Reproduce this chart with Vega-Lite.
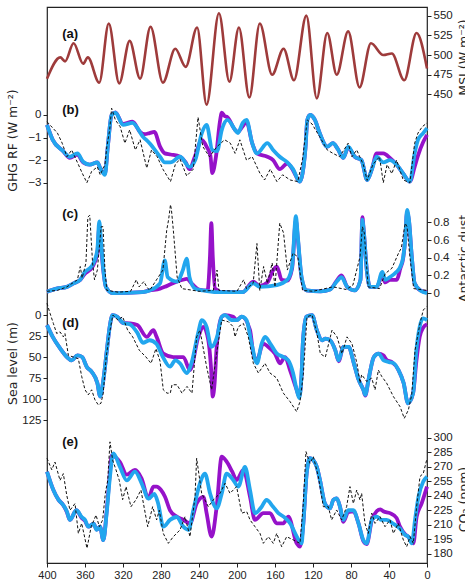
{
  "$schema": "https://vega.github.io/schema/vega-lite/v6.json",
  "width": 380,
  "height": 556,
  "autosize": {"type": "none"},
  "padding": {"left": 47, "top": 7, "right": 38, "bottom": 23},
  "background": "white",
  "config": {
    "view": {"stroke": "#222", "strokeWidth": 1.2},
    "axis": {
      "labelFont": "Liberation Sans", "labelFontSize": 11.5, "labelColor": "#222",
      "tickColor": "#222", "tickSize": 4, "labelPadding": 2,
      "titleFont": "DejaVu Sans", "titleFontSize": 12.5, "titleFontWeight": "normal", "titleColor": "#222",
      "domain": false, "grid": false
    }
  },
  "datasets": {
    "msi": [
      {"t":400,"v":470},{"t":386,"v":497},{"t":381,"v":492},{"t":372,"v":515},{"t":362,"v":489},{"t":357,"v":497},
      {"t":345,"v":465},{"t":335,"v":540},{"t":324,"v":464},{"t":313,"v":518},{"t":302,"v":470},{"t":291,"v":536},
      {"t":278,"v":465},{"t":265,"v":508},{"t":254,"v":485},{"t":242,"v":535},{"t":232,"v":437},{"t":219,"v":553},
      {"t":208,"v":466},{"t":198,"v":535},{"t":187,"v":446},{"t":176,"v":540},{"t":163,"v":475},{"t":151,"v":508},
      {"t":140,"v":468},{"t":127,"v":550},{"t":116,"v":445},{"t":105,"v":528},{"t":95,"v":475},{"t":83,"v":530},
      {"t":71,"v":459},{"t":59,"v":515},{"t":46,"v":500},{"t":37,"v":502},{"t":24,"v":468},{"t":11,"v":528},{"t":0,"v":483}
    ],
    "ghg": [
      {"s":"P","t":400,"v":-0.44},{"s":"P","t":394,"v":-1.1},{"s":"P","t":383,"v":-1.6},{"s":"P","t":376,"v":-1.9},{"s":"P","t":368,"v":-1.75},{"s":"P","t":362,"v":-2.1},{"s":"P","t":355,"v":-2.2},{"s":"P","t":347,"v":-2.1},{"s":"P","t":344,"v":-2.35},{"s":"P","t":339,"v":-2.6},{"s":"P","t":336,"v":-1.4},{"s":"P","t":332,"v":0},{"s":"P","t":328,"v":0.12},{"s":"P","t":320,"v":-0.4},{"s":"P","t":310,"v":-0.3},{"s":"P","t":302,"v":-0.75},{"s":"P","t":297,"v":-0.85},{"s":"P","t":292,"v":-0.8},{"s":"P","t":287,"v":-0.75},{"s":"P","t":281,"v":-1.4},{"s":"P","t":276,"v":-1.7},{"s":"P","t":270,"v":-1.75},{"s":"P","t":260,"v":-1.85},{"s":"P","t":254,"v":-2.1},{"s":"P","t":250,"v":-2.4},{"s":"P","t":244,"v":-1.8},{"s":"P","t":237,"v":-1.1},{"s":"P","t":232,"v":-1.4},{"s":"P","t":228,"v":-1.8},{"s":"P","t":226,"v":-2.57},{"s":"P","t":222,"v":-1.8},{"s":"P","t":218,"v":-0.3},{"s":"P","t":216,"v":0.1},{"s":"P","t":213,"v":-0.05},{"s":"P","t":210,"v":-0.1},{"s":"P","t":202,"v":-0.66},{"s":"P","t":199,"v":-0.75},{"s":"P","t":194,"v":-0.5},{"s":"P","t":190,"v":-0.3},{"s":"P","t":184,"v":-1.25},{"s":"P","t":179,"v":-1.7},{"s":"P","t":168,"v":-1.85},{"s":"P","t":162,"v":-2.0},{"s":"P","t":155,"v":-2.4},{"s":"P","t":147,"v":-2.15},{"s":"P","t":141,"v":-2.45},{"s":"P","t":134,"v":-2.95},{"s":"P","t":128,"v":-1.5},{"s":"P","t":126,"v":-0.22},{"s":"P","t":123,"v":0},{"s":"P","t":118,"v":-0.22},{"s":"P","t":113,"v":-0.8},{"s":"P","t":105,"v":-1.4},{"s":"P","t":99,"v":-1.25},{"s":"P","t":94,"v":-1.5},{"s":"P","t":88,"v":-1.9},{"s":"P","t":83,"v":-1.45},{"s":"P","t":76,"v":-1.85},{"s":"P","t":69,"v":-2.0},{"s":"P","t":63,"v":-2.88},{"s":"P","t":58,"v":-2.4},{"s":"P","t":53,"v":-1.7},{"s":"P","t":46,"v":-1.7},{"s":"P","t":39,"v":-1.9},{"s":"P","t":32,"v":-2.2},{"s":"P","t":25,"v":-2.6},{"s":"P","t":18,"v":-2.95},{"s":"P","t":13,"v":-2.3},{"s":"P","t":9.5,"v":-1.8},{"s":"P","t":4,"v":-1.2},{"s":"P","t":0,"v":-0.88},
      {"s":"B","t":400,"v":-0.44},{"s":"B","t":394,"v":-1.1},{"s":"B","t":383,"v":-1.6},{"s":"B","t":376,"v":-1.85},{"s":"B","t":368,"v":-1.7},{"s":"B","t":362,"v":-2.07},{"s":"B","t":355,"v":-2.2},{"s":"B","t":347,"v":-2.1},{"s":"B","t":344,"v":-2.35},{"s":"B","t":339,"v":-2.65},{"s":"B","t":336,"v":-1.4},{"s":"B","t":332,"v":0},{"s":"B","t":328,"v":0.1},{"s":"B","t":320,"v":-0.44},{"s":"B","t":310,"v":-0.35},{"s":"B","t":299,"v":-0.96},{"s":"B","t":292,"v":-1.25},{"s":"B","t":281,"v":-1.85},{"s":"B","t":276,"v":-2.1},{"s":"B","t":270,"v":-2.1},{"s":"B","t":260,"v":-1.85},{"s":"B","t":250,"v":-2.3},{"s":"B","t":244,"v":-2.0},{"s":"B","t":237,"v":-0.8},{"s":"B","t":232,"v":-0.44},{"s":"B","t":226,"v":-1.55},{"s":"B","t":221,"v":-1.6},{"s":"B","t":216,"v":-0.66},{"s":"B","t":210,"v":-0.22},{"s":"B","t":202,"v":-0.66},{"s":"B","t":199,"v":-0.8},{"s":"B","t":194,"v":-0.35},{"s":"B","t":190,"v":-0.22},{"s":"B","t":184,"v":-1.25},{"s":"B","t":179,"v":-1.7},{"s":"B","t":168,"v":-1.25},{"s":"B","t":162,"v":-1.55},{"s":"B","t":155,"v":-1.85},{"s":"B","t":147,"v":-2.1},{"s":"B","t":141,"v":-2.4},{"s":"B","t":134,"v":-2.95},{"s":"B","t":128,"v":-1.5},{"s":"B","t":126,"v":-0.22},{"s":"B","t":123,"v":0},{"s":"B","t":118,"v":-0.22},{"s":"B","t":113,"v":-0.8},{"s":"B","t":105,"v":-1.4},{"s":"B","t":99,"v":-1.25},{"s":"B","t":94,"v":-1.5},{"s":"B","t":88,"v":-1.9},{"s":"B","t":83,"v":-1.4},{"s":"B","t":76,"v":-1.85},{"s":"B","t":69,"v":-2.0},{"s":"B","t":63,"v":-2.88},{"s":"B","t":58,"v":-2.4},{"s":"B","t":53,"v":-1.85},{"s":"B","t":46,"v":-2.1},{"s":"B","t":39,"v":-2.0},{"s":"B","t":32,"v":-2.2},{"s":"B","t":25,"v":-2.6},{"s":"B","t":18,"v":-2.95},{"s":"B","t":13,"v":-1.7},{"s":"B","t":9.5,"v":-1.1},{"s":"B","t":4,"v":-0.8},{"s":"B","t":0,"v":-0.58},
      {"s":"O","t":400,"v":-0.3},{"s":"O","t":389,"v":-0.8},{"s":"O","t":384,"v":-1.25},{"s":"O","t":379,"v":-1.85},{"s":"O","t":374,"v":-1.55},{"s":"O","t":368,"v":-2.1},{"s":"O","t":363,"v":-2.57},{"s":"O","t":358,"v":-3.0},{"s":"O","t":353,"v":-2.5},{"s":"O","t":347,"v":-2.3},{"s":"O","t":344,"v":-2.65},{"s":"O","t":339,"v":-2.2},{"s":"O","t":337,"v":-1.4},{"s":"O","t":334,"v":-0.66},{"s":"O","t":332,"v":0.3},{"s":"O","t":328,"v":-0.22},{"s":"O","t":323,"v":-0.52},{"s":"O","t":318,"v":-1.25},{"s":"O","t":313,"v":-0.66},{"s":"O","t":307,"v":-1.55},{"s":"O","t":302,"v":-1.1},{"s":"O","t":295,"v":-2.35},{"s":"O","t":290,"v":-1.55},{"s":"O","t":284,"v":-1.85},{"s":"O","t":278,"v":-2.4},{"s":"O","t":270,"v":-2.95},{"s":"O","t":265,"v":-2.2},{"s":"O","t":260,"v":-1.95},{"s":"O","t":253,"v":-2.7},{"s":"O","t":246,"v":-2.4},{"s":"O","t":241,"v":-0.1},{"s":"O","t":236,"v":-1.4},{"s":"O","t":229,"v":-1.85},{"s":"O","t":221,"v":-1.4},{"s":"O","t":213,"v":-1.1},{"s":"O","t":207,"v":-1.25},{"s":"O","t":202,"v":-1.7},{"s":"O","t":197,"v":-1.1},{"s":"O","t":190,"v":-2.0},{"s":"O","t":184,"v":-1.85},{"s":"O","t":176,"v":-2.57},{"s":"O","t":171,"v":-2.88},{"s":"O","t":165,"v":-2.4},{"s":"O","t":158,"v":-2.95},{"s":"O","t":152,"v":-2.65},{"s":"O","t":144,"v":-2.88},{"s":"O","t":136,"v":-2.95},{"s":"O","t":131,"v":-1.95},{"s":"O","t":126,"v":-0.22},{"s":"O","t":121,"v":-0.4},{"s":"O","t":113,"v":-0.96},{"s":"O","t":105,"v":-1.55},{"s":"O","t":99,"v":-1.7},{"s":"O","t":92,"v":-1.85},{"s":"O","t":83,"v":-1.25},{"s":"O","t":79,"v":-1.85},{"s":"O","t":74,"v":-1.55},{"s":"O","t":67,"v":-2.2},{"s":"O","t":63,"v":-2.9},{"s":"O","t":57,"v":-2.2},{"s":"O","t":50,"v":-1.85},{"s":"O","t":46,"v":-3.0},{"s":"O","t":42,"v":-2.2},{"s":"O","t":37,"v":-2.6},{"s":"O","t":32,"v":-2.0},{"s":"O","t":25,"v":-2.88},{"s":"O","t":18,"v":-3.0},{"s":"O","t":13,"v":-1.25},{"s":"O","t":9.5,"v":-0.8},{"s":"O","t":5,"v":-0.52},{"s":"O","t":0,"v":-0.35}
    ],
    "dust": [
      {"s":"P","t":400,"v":0.015},{"s":"P","t":390,"v":0.05},{"s":"P","t":379,"v":0.07},{"s":"P","t":372,"v":0.11},{"s":"P","t":365,"v":0.15},{"s":"P","t":360,"v":0.22},{"s":"P","t":355,"v":0.26},{"s":"P","t":352,"v":0.3},{"s":"P","t":347,"v":0.45},{"s":"P","t":345,"v":0.74},{"s":"P","t":343,"v":0.52},{"s":"P","t":341,"v":0.28},{"s":"P","t":338,"v":0.07},{"s":"P","t":331,"v":0},{"s":"P","t":300,"v":0.01},{"s":"P","t":292,"v":0.03},{"s":"P","t":281,"v":0.05},{"s":"P","t":276,"v":0.07},{"s":"P","t":270,"v":0.1},{"s":"P","t":263,"v":0.13},{"s":"P","t":257,"v":0.15},{"s":"P","t":253,"v":0.16},{"s":"P","t":247,"v":0.1},{"s":"P","t":240,"v":0.04},{"s":"P","t":231,"v":0.03},{"s":"P","t":228.5,"v":0.4},{"s":"P","t":227,"v":0.79},{"s":"P","t":225.5,"v":0.41},{"s":"P","t":223,"v":0.05},{"s":"P","t":215,"v":0.01},{"s":"P","t":194,"v":0.01},{"s":"P","t":183,"v":0.13},{"s":"P","t":176,"v":0.08},{"s":"P","t":168,"v":0.12},{"s":"P","t":162,"v":0.26},{"s":"P","t":158,"v":0.3},{"s":"P","t":153,"v":0.15},{"s":"P","t":147,"v":0.14},{"s":"P","t":142,"v":0.28},{"s":"P","t":138,"v":0.82},{"s":"P","t":136,"v":0.62},{"s":"P","t":132,"v":0.17},{"s":"P","t":127,"v":0.03},{"s":"P","t":112,"v":0.02},{"s":"P","t":102,"v":0.04},{"s":"P","t":95,"v":0.14},{"s":"P","t":90,"v":0.2},{"s":"P","t":84,"v":0.07},{"s":"P","t":76,"v":0.03},{"s":"P","t":70,"v":0.15},{"s":"P","t":68,"v":0.86},{"s":"P","t":67,"v":0.76},{"s":"P","t":63,"v":0.22},{"s":"P","t":60,"v":0.07},{"s":"P","t":53,"v":0.07},{"s":"P","t":47,"v":0.2},{"s":"P","t":44,"v":0.12},{"s":"P","t":39,"v":0.15},{"s":"P","t":32,"v":0.15},{"s":"P","t":28,"v":0.28},{"s":"P","t":25,"v":0.4},{"s":"P","t":23,"v":0.6},{"s":"P","t":21,"v":0.92},{"s":"P","t":19,"v":0.82},{"s":"P","t":16,"v":0.41},{"s":"P","t":13,"v":0.11},{"s":"P","t":7,"v":0.03},{"s":"P","t":0,"v":0.01},
      {"s":"B","t":400,"v":0.015},{"s":"B","t":390,"v":0.05},{"s":"B","t":379,"v":0.07},{"s":"B","t":372,"v":0.11},{"s":"B","t":365,"v":0.15},{"s":"B","t":360,"v":0.24},{"s":"B","t":355,"v":0.28},{"s":"B","t":352,"v":0.32},{"s":"B","t":347,"v":0.49},{"s":"B","t":345,"v":0.81},{"s":"B","t":343,"v":0.57},{"s":"B","t":341,"v":0.3},{"s":"B","t":338,"v":0.07},{"s":"B","t":331,"v":0},{"s":"B","t":300,"v":0.01},{"s":"B","t":292,"v":0.03},{"s":"B","t":281,"v":0.11},{"s":"B","t":276,"v":0.37},{"s":"B","t":273,"v":0.18},{"s":"B","t":263,"v":0.13},{"s":"B","t":257,"v":0.26},{"s":"B","t":253,"v":0.39},{"s":"B","t":250,"v":0.18},{"s":"B","t":244,"v":0.05},{"s":"B","t":236,"v":0.03},{"s":"B","t":221,"v":0.01},{"s":"B","t":194,"v":0.01},{"s":"B","t":183,"v":0.11},{"s":"B","t":176,"v":0.07},{"s":"B","t":158,"v":0.09},{"s":"B","t":147,"v":0.15},{"s":"B","t":142,"v":0.3},{"s":"B","t":138,"v":0.87},{"s":"B","t":136,"v":0.64},{"s":"B","t":132,"v":0.18},{"s":"B","t":127,"v":0.03},{"s":"B","t":112,"v":0.02},{"s":"B","t":102,"v":0.04},{"s":"B","t":95,"v":0.13},{"s":"B","t":90,"v":0.18},{"s":"B","t":84,"v":0.07},{"s":"B","t":76,"v":0.03},{"s":"B","t":70,"v":0.15},{"s":"B","t":68,"v":0.83},{"s":"B","t":67,"v":0.75},{"s":"B","t":63,"v":0.22},{"s":"B","t":60,"v":0.07},{"s":"B","t":53,"v":0.07},{"s":"B","t":47,"v":0.24},{"s":"B","t":44,"v":0.15},{"s":"B","t":39,"v":0.18},{"s":"B","t":32,"v":0.24},{"s":"B","t":28,"v":0.3},{"s":"B","t":25,"v":0.41},{"s":"B","t":23,"v":0.6},{"s":"B","t":21,"v":0.94},{"s":"B","t":19,"v":0.83},{"s":"B","t":16,"v":0.41},{"s":"B","t":13,"v":0.11},{"s":"B","t":7,"v":0.03},{"s":"B","t":0,"v":0.0},
      {"s":"O","t":400,"v":0.02},{"s":"O","t":389,"v":0.03},{"s":"O","t":379,"v":0.07},{"s":"O","t":368,"v":0.15},{"s":"O","t":365,"v":0.3},{"s":"O","t":363,"v":0.17},{"s":"O","t":359,"v":0.34},{"s":"O","t":357,"v":0.86},{"s":"O","t":355,"v":0.88},{"s":"O","t":352,"v":0.34},{"s":"O","t":350,"v":0.15},{"s":"O","t":347,"v":0.26},{"s":"O","t":343,"v":0.75},{"s":"O","t":341,"v":0.75},{"s":"O","t":339,"v":0.26},{"s":"O","t":337,"v":0.03},{"s":"O","t":325,"v":0.01},{"s":"O","t":312,"v":0.02},{"s":"O","t":306,"v":0.15},{"s":"O","t":303,"v":0.07},{"s":"O","t":298,"v":0.13},{"s":"O","t":295,"v":0.07},{"s":"O","t":292,"v":0.03},{"s":"O","t":278,"v":0.26},{"s":"O","t":274,"v":0.71},{"s":"O","t":272,"v":0.83},{"s":"O","t":270,"v":1.0},{"s":"O","t":269,"v":0.94},{"s":"O","t":267,"v":0.71},{"s":"O","t":263,"v":0.18},{"s":"O","t":258,"v":0.05},{"s":"O","t":240,"v":0.02},{"s":"O","t":225,"v":0.03},{"s":"O","t":221,"v":0.26},{"s":"O","t":219,"v":0.03},{"s":"O","t":200,"v":0.02},{"s":"O","t":193,"v":0.15},{"s":"O","t":190,"v":0.05},{"s":"O","t":183,"v":0.11},{"s":"O","t":179,"v":0.56},{"s":"O","t":176,"v":0.03},{"s":"O","t":172,"v":0.3},{"s":"O","t":168,"v":0.11},{"s":"O","t":163,"v":0.34},{"s":"O","t":160,"v":0.07},{"s":"O","t":155,"v":0.79},{"s":"O","t":151,"v":0.68},{"s":"O","t":147,"v":0.26},{"s":"O","t":141,"v":0.45},{"s":"O","t":136,"v":0.41},{"s":"O","t":131,"v":0.03},{"s":"O","t":120,"v":0.02},{"s":"O","t":99,"v":0.07},{"s":"O","t":85,"v":0.04},{"s":"O","t":78,"v":0.09},{"s":"O","t":70.5,"v":0.41},{"s":"O","t":68,"v":0.75},{"s":"O","t":66,"v":0.68},{"s":"O","t":62,"v":0.07},{"s":"O","t":50,"v":0.05},{"s":"O","t":44,"v":0.22},{"s":"O","t":37,"v":0.28},{"s":"O","t":30,"v":0.45},{"s":"O","t":27,"v":0.51},{"s":"O","t":23,"v":0.79},{"s":"O","t":21,"v":0.75},{"s":"O","t":18,"v":0.41},{"s":"O","t":14,"v":0.05},{"s":"O","t":0,"v":0.03}
    ],
    "sea": [
      {"s":"P","t":400,"v":12},{"s":"P","t":394,"v":26},{"s":"P","t":386,"v":40},{"s":"P","t":379,"v":50},{"s":"P","t":374,"v":54},{"s":"P","t":368,"v":48},{"s":"P","t":363,"v":50},{"s":"P","t":358,"v":62},{"s":"P","t":353,"v":67.5},{"s":"P","t":347,"v":81},{"s":"P","t":344,"v":97},{"s":"P","t":341,"v":80},{"s":"P","t":337,"v":42},{"s":"P","t":334,"v":14},{"s":"P","t":331,"v":0},{"s":"P","t":326,"v":2},{"s":"P","t":320,"v":9.5},{"s":"P","t":313,"v":10},{"s":"P","t":305,"v":12},{"s":"P","t":295,"v":26},{"s":"P","t":288,"v":18},{"s":"P","t":284.6,"v":26},{"s":"P","t":277.6,"v":46},{"s":"P","t":267,"v":50},{"s":"P","t":256.5,"v":50},{"s":"P","t":249.5,"v":65.5},{"s":"P","t":240.7,"v":26},{"s":"P","t":235.4,"v":14},{"s":"P","t":230.2,"v":30},{"s":"P","t":227.5,"v":60},{"s":"P","t":225.5,"v":97},{"s":"P","t":223.5,"v":80},{"s":"P","t":221.4,"v":38},{"s":"P","t":216,"v":2},{"s":"P","t":212.6,"v":0},{"s":"P","t":204,"v":2},{"s":"P","t":200.4,"v":6},{"s":"P","t":195,"v":2},{"s":"P","t":186.3,"v":18},{"s":"P","t":182.8,"v":46},{"s":"P","t":179.3,"v":54},{"s":"P","t":172.3,"v":34},{"s":"P","t":167,"v":38},{"s":"P","t":160,"v":46},{"s":"P","t":154.7,"v":57.5},{"s":"P","t":149.5,"v":50},{"s":"P","t":144.2,"v":65.5},{"s":"P","t":137.2,"v":89},{"s":"P","t":134.5,"v":97},{"s":"P","t":132,"v":70},{"s":"P","t":130.5,"v":30},{"s":"P","t":127,"v":2},{"s":"P","t":121,"v":0},{"s":"P","t":116,"v":18},{"s":"P","t":110.5,"v":30},{"s":"P","t":107,"v":28},{"s":"P","t":102,"v":30},{"s":"P","t":96.5,"v":42},{"s":"P","t":93,"v":55},{"s":"P","t":88,"v":38},{"s":"P","t":82.5,"v":38},{"s":"P","t":77,"v":57.5},{"s":"P","t":72,"v":77},{"s":"P","t":67,"v":89},{"s":"P","t":65,"v":96},{"s":"P","t":62,"v":80},{"s":"P","t":59.6,"v":65.5},{"s":"P","t":56,"v":50},{"s":"P","t":51,"v":46},{"s":"P","t":46,"v":48},{"s":"P","t":42,"v":54},{"s":"P","t":37,"v":56},{"s":"P","t":30,"v":65.5},{"s":"P","t":24.6,"v":81},{"s":"P","t":20,"v":105},{"s":"P","t":14.6,"v":93},{"s":"P","t":11.2,"v":55},{"s":"P","t":7.7,"v":26},{"s":"P","t":4,"v":15},{"s":"P","t":0,"v":11},
      {"s":"B","t":400,"v":12},{"s":"B","t":394,"v":26},{"s":"B","t":386,"v":40},{"s":"B","t":379,"v":50},{"s":"B","t":374,"v":54},{"s":"B","t":368,"v":48},{"s":"B","t":363,"v":50},{"s":"B","t":358,"v":62},{"s":"B","t":353,"v":67.5},{"s":"B","t":347,"v":81},{"s":"B","t":344,"v":97},{"s":"B","t":341,"v":80},{"s":"B","t":337,"v":42},{"s":"B","t":334,"v":14},{"s":"B","t":331,"v":0},{"s":"B","t":326,"v":2},{"s":"B","t":320,"v":9.5},{"s":"B","t":313,"v":11},{"s":"B","t":305,"v":21},{"s":"B","t":299,"v":33},{"s":"B","t":292,"v":30},{"s":"B","t":285,"v":34},{"s":"B","t":278,"v":50},{"s":"B","t":270.5,"v":61.5},{"s":"B","t":265,"v":54},{"s":"B","t":260,"v":57.5},{"s":"B","t":253,"v":69},{"s":"B","t":248,"v":57.5},{"s":"B","t":241,"v":22},{"s":"B","t":237,"v":6},{"s":"B","t":232,"v":14},{"s":"B","t":227,"v":38},{"s":"B","t":221,"v":26},{"s":"B","t":216,"v":2},{"s":"B","t":212.6,"v":0},{"s":"B","t":206,"v":6},{"s":"B","t":200,"v":6},{"s":"B","t":195,"v":2},{"s":"B","t":190,"v":6},{"s":"B","t":184.6,"v":34},{"s":"B","t":179,"v":57.5},{"s":"B","t":174,"v":34},{"s":"B","t":170.5,"v":26},{"s":"B","t":165,"v":34},{"s":"B","t":158,"v":46},{"s":"B","t":151,"v":50},{"s":"B","t":146,"v":54},{"s":"B","t":141,"v":69},{"s":"B","t":137,"v":90},{"s":"B","t":134.5,"v":99},{"s":"B","t":132,"v":70},{"s":"B","t":130.5,"v":30},{"s":"B","t":127,"v":2},{"s":"B","t":121,"v":0},{"s":"B","t":116,"v":18},{"s":"B","t":110.5,"v":30},{"s":"B","t":107,"v":28},{"s":"B","t":102,"v":30},{"s":"B","t":96.5,"v":42},{"s":"B","t":93,"v":54},{"s":"B","t":88,"v":38},{"s":"B","t":82.5,"v":38},{"s":"B","t":77,"v":57.5},{"s":"B","t":72,"v":77},{"s":"B","t":67,"v":89},{"s":"B","t":65,"v":95},{"s":"B","t":62,"v":80},{"s":"B","t":59.6,"v":65.5},{"s":"B","t":56,"v":50},{"s":"B","t":51,"v":46},{"s":"B","t":45.6,"v":54},{"s":"B","t":40,"v":56},{"s":"B","t":35,"v":57.5},{"s":"B","t":30,"v":65.5},{"s":"B","t":24.6,"v":81},{"s":"B","t":20,"v":105},{"s":"B","t":14.6,"v":93},{"s":"B","t":11.2,"v":42},{"s":"B","t":7.7,"v":14},{"s":"B","t":4.2,"v":4},{"s":"B","t":0,"v":6},
      {"s":"O","t":400,"v":-14},{"s":"O","t":396.8,"v":-2},{"s":"O","t":393.3,"v":10},{"s":"O","t":389.8,"v":22},{"s":"O","t":386.3,"v":20},{"s":"O","t":382.8,"v":26},{"s":"O","t":381.1,"v":22},{"s":"O","t":377.5,"v":48},{"s":"O","t":372.3,"v":50},{"s":"O","t":367,"v":52},{"s":"O","t":363.5,"v":73},{"s":"O","t":360,"v":89},{"s":"O","t":356.5,"v":95},{"s":"O","t":353,"v":89},{"s":"O","t":349.5,"v":101},{"s":"O","t":346,"v":107},{"s":"O","t":343.2,"v":105},{"s":"O","t":340.8,"v":93},{"s":"O","t":337.7,"v":50},{"s":"O","t":334.2,"v":22},{"s":"O","t":330.7,"v":0},{"s":"O","t":325.4,"v":6},{"s":"O","t":320.4,"v":2},{"s":"O","t":315.1,"v":18},{"s":"O","t":309.8,"v":26},{"s":"O","t":302.8,"v":42},{"s":"O","t":295.8,"v":50},{"s":"O","t":290.5,"v":57.5},{"s":"O","t":285.3,"v":40},{"s":"O","t":281,"v":55},{"s":"O","t":277.6,"v":89},{"s":"O","t":273.7,"v":93},{"s":"O","t":270.2,"v":93},{"s":"O","t":268.4,"v":83},{"s":"O","t":263.2,"v":83},{"s":"O","t":257.9,"v":93},{"s":"O","t":252.6,"v":85},{"s":"O","t":247.4,"v":93},{"s":"O","t":242.5,"v":26},{"s":"O","t":239,"v":18},{"s":"O","t":232,"v":61.5},{"s":"O","t":226.7,"v":89},{"s":"O","t":221.4,"v":45.6},{"s":"O","t":216.1,"v":6},{"s":"O","t":209.1,"v":8},{"s":"O","t":203.9,"v":14},{"s":"O","t":202.1,"v":26},{"s":"O","t":198.6,"v":14},{"s":"O","t":193.3,"v":10},{"s":"O","t":188.1,"v":26},{"s":"O","t":182.8,"v":57.5},{"s":"O","t":177.5,"v":69},{"s":"O","t":170.5,"v":57.5},{"s":"O","t":165.3,"v":69},{"s":"O","t":158.2,"v":75},{"s":"O","t":151.2,"v":93},{"s":"O","t":144.2,"v":103},{"s":"O","t":137.2,"v":115},{"s":"O","t":133.7,"v":103},{"s":"O","t":130.2,"v":71},{"s":"O","t":126.3,"v":2},{"s":"O","t":121,"v":0},{"s":"O","t":115.8,"v":22},{"s":"O","t":112.3,"v":46},{"s":"O","t":107,"v":50},{"s":"O","t":100,"v":18},{"s":"O","t":94.7,"v":26},{"s":"O","t":89.5,"v":46},{"s":"O","t":84.2,"v":26},{"s":"O","t":79,"v":34},{"s":"O","t":73.7,"v":57.5},{"s":"O","t":70.5,"v":81},{"s":"O","t":68.8,"v":71},{"s":"O","t":63.5,"v":79},{"s":"O","t":58.2,"v":75},{"s":"O","t":54.7,"v":89},{"s":"O","t":51.2,"v":65.5},{"s":"O","t":47.7,"v":73},{"s":"O","t":42.5,"v":81},{"s":"O","t":35.4,"v":97},{"s":"O","t":28.4,"v":109},{"s":"O","t":23.9,"v":123},{"s":"O","t":19.6,"v":113},{"s":"O","t":16.1,"v":95},{"s":"O","t":12.6,"v":42},{"s":"O","t":7.4,"v":10},{"s":"O","t":3.9,"v":-6},{"s":"O","t":0.4,"v":-10}
    ],
    "co2": [
      {"s":"P","t":400,"v":265},{"s":"P","t":393.3,"v":246},{"s":"P","t":388,"v":236},{"s":"P","t":383,"v":230.5},{"s":"P","t":379,"v":223},{"s":"P","t":376,"v":215},{"s":"P","t":369,"v":225},{"s":"P","t":363.5,"v":217},{"s":"P","t":360,"v":214},{"s":"P","t":356.5,"v":208},{"s":"P","t":351,"v":211},{"s":"P","t":347.7,"v":205},{"s":"P","t":344.2,"v":208},{"s":"P","t":340.7,"v":194},{"s":"P","t":337.2,"v":224},{"s":"P","t":333.7,"v":265},{"s":"P","t":331.9,"v":282},{"s":"P","t":323.2,"v":275},{"s":"P","t":316,"v":262},{"s":"P","t":307.4,"v":267},{"s":"P","t":300.4,"v":258},{"s":"P","t":293.3,"v":237.4},{"s":"P","t":288,"v":249.5},{"s":"P","t":284.6,"v":249.5},{"s":"P","t":280,"v":246},{"s":"P","t":275.8,"v":239},{"s":"P","t":270.5,"v":225},{"s":"P","t":263.5,"v":218.4},{"s":"P","t":256.5,"v":215},{"s":"P","t":249.5,"v":211.4},{"s":"P","t":242.5,"v":232},{"s":"P","t":235.4,"v":239},{"s":"P","t":232,"v":222},{"s":"P","t":226.7,"v":197.6},{"s":"P","t":221.4,"v":228.7},{"s":"P","t":216.1,"v":280.6},{"s":"P","t":210.9,"v":275.4},{"s":"P","t":205,"v":265},{"s":"P","t":200.4,"v":256.4},{"s":"P","t":193.3,"v":266.8},{"s":"P","t":186.3,"v":239},{"s":"P","t":181.1,"v":215},{"s":"P","t":172.3,"v":222},{"s":"P","t":165.3,"v":222},{"s":"P","t":158.2,"v":211.4},{"s":"P","t":151.2,"v":211.4},{"s":"P","t":145.9,"v":218.4},{"s":"P","t":137.2,"v":190.7},{"s":"P","t":133.7,"v":187.2},{"s":"P","t":130.2,"v":211},{"s":"P","t":126.7,"v":263},{"s":"P","t":123.2,"v":279},{"s":"P","t":119.6,"v":277},{"s":"P","t":116,"v":270},{"s":"P","t":112.6,"v":256},{"s":"P","t":107.4,"v":232},{"s":"P","t":102,"v":227},{"s":"P","t":98.6,"v":235.7},{"s":"P","t":95,"v":237.4},{"s":"P","t":91.6,"v":228.7},{"s":"P","t":88,"v":213},{"s":"P","t":83,"v":223},{"s":"P","t":77.5,"v":224},{"s":"P","t":72,"v":211},{"s":"P","t":67,"v":193},{"s":"P","t":63.5,"v":190},{"s":"P","t":58,"v":215},{"s":"P","t":53,"v":224},{"s":"P","t":49,"v":226},{"s":"P","t":46,"v":224},{"s":"P","t":39,"v":222},{"s":"P","t":32,"v":217},{"s":"P","t":28.4,"v":208},{"s":"P","t":23,"v":200},{"s":"P","t":19.6,"v":197.6},{"s":"P","t":14.4,"v":190.7},{"s":"P","t":10.9,"v":218.4},{"s":"P","t":5.6,"v":232.2},{"s":"P","t":0,"v":249.5},
      {"s":"B","t":400,"v":265},{"s":"B","t":393.3,"v":246},{"s":"B","t":388,"v":236},{"s":"B","t":383,"v":230.5},{"s":"B","t":379,"v":223.6},{"s":"B","t":376,"v":215},{"s":"B","t":369,"v":225},{"s":"B","t":363.5,"v":218},{"s":"B","t":360,"v":215},{"s":"B","t":356.5,"v":208},{"s":"B","t":351,"v":211},{"s":"B","t":347.7,"v":204.6},{"s":"B","t":344.2,"v":208},{"s":"B","t":340.7,"v":194},{"s":"B","t":337.2,"v":222},{"s":"B","t":333.7,"v":260},{"s":"B","t":330.2,"v":284},{"s":"B","t":323.2,"v":270},{"s":"B","t":316,"v":256},{"s":"B","t":307.4,"v":265},{"s":"B","t":300.4,"v":253},{"s":"B","t":293,"v":237},{"s":"B","t":287,"v":242},{"s":"B","t":283,"v":232},{"s":"B","t":277.6,"v":208},{"s":"B","t":270.5,"v":215},{"s":"B","t":263.5,"v":218},{"s":"B","t":256.5,"v":208},{"s":"B","t":251,"v":204.6},{"s":"B","t":246,"v":225},{"s":"B","t":239,"v":253},{"s":"B","t":233.7,"v":263},{"s":"B","t":228.4,"v":242.6},{"s":"B","t":221.4,"v":227},{"s":"B","t":216,"v":242.6},{"s":"B","t":211,"v":263},{"s":"B","t":204,"v":256.4},{"s":"B","t":198.6,"v":249.5},{"s":"B","t":191.6,"v":270},{"s":"B","t":186.3,"v":246},{"s":"B","t":181,"v":222},{"s":"B","t":174,"v":228.7},{"s":"B","t":169,"v":235.7},{"s":"B","t":162,"v":228.7},{"s":"B","t":156.5,"v":222},{"s":"B","t":151,"v":218.4},{"s":"B","t":144,"v":211.4},{"s":"B","t":137,"v":197.6},{"s":"B","t":132,"v":190.7},{"s":"B","t":130.2,"v":211},{"s":"B","t":126.7,"v":263},{"s":"B","t":123.2,"v":279},{"s":"B","t":119.6,"v":277},{"s":"B","t":116,"v":270},{"s":"B","t":112.6,"v":256},{"s":"B","t":107.4,"v":232},{"s":"B","t":102,"v":227},{"s":"B","t":98.6,"v":235.7},{"s":"B","t":95,"v":237.4},{"s":"B","t":91.6,"v":228.7},{"s":"B","t":88,"v":215},{"s":"B","t":83,"v":225},{"s":"B","t":77.5,"v":225},{"s":"B","t":72,"v":211},{"s":"B","t":67,"v":194},{"s":"B","t":63.5,"v":190.7},{"s":"B","t":58,"v":215},{"s":"B","t":53,"v":218.4},{"s":"B","t":47.7,"v":215},{"s":"B","t":42.5,"v":215},{"s":"B","t":35.4,"v":211},{"s":"B","t":28.4,"v":206},{"s":"B","t":23,"v":199.4},{"s":"B","t":19.6,"v":197.6},{"s":"B","t":16,"v":190.7},{"s":"B","t":12.6,"v":215},{"s":"B","t":9,"v":239},{"s":"B","t":4,"v":254.7},{"s":"B","t":0,"v":260},
      {"s":"O","t":400,"v":279},{"s":"O","t":395,"v":267},{"s":"O","t":391.6,"v":275},{"s":"O","t":386.3,"v":256},{"s":"O","t":382.8,"v":263},{"s":"O","t":379.3,"v":241},{"s":"O","t":375.8,"v":225},{"s":"O","t":370.5,"v":232},{"s":"O","t":367,"v":201},{"s":"O","t":363.5,"v":211.5},{"s":"O","t":357.9,"v":185.6},{"s":"O","t":353.5,"v":208},{"s":"O","t":348.4,"v":220},{"s":"O","t":344.9,"v":208},{"s":"O","t":341.4,"v":215},{"s":"O","t":338.6,"v":242.6},{"s":"O","t":336.1,"v":256},{"s":"O","t":333.7,"v":296},{"s":"O","t":330.9,"v":277},{"s":"O","t":327.4,"v":267},{"s":"O","t":323.9,"v":256},{"s":"O","t":320.4,"v":236},{"s":"O","t":316.8,"v":249.5},{"s":"O","t":311.6,"v":228.7},{"s":"O","t":306.3,"v":236},{"s":"O","t":301.1,"v":246},{"s":"O","t":294,"v":208},{"s":"O","t":288.8,"v":228.7},{"s":"O","t":284.6,"v":215},{"s":"O","t":281.8,"v":225},{"s":"O","t":277.6,"v":201},{"s":"O","t":272.3,"v":190.7},{"s":"O","t":267,"v":197.6},{"s":"O","t":260,"v":204.6},{"s":"O","t":254.7,"v":218.4},{"s":"O","t":249.5,"v":197.6},{"s":"O","t":244.2,"v":239},{"s":"O","t":242.5,"v":279},{"s":"O","t":237.2,"v":242.6},{"s":"O","t":230.2,"v":228.7},{"s":"O","t":225,"v":235.7},{"s":"O","t":217.9,"v":242.6},{"s":"O","t":212.6,"v":253},{"s":"O","t":207.4,"v":242.6},{"s":"O","t":200.4,"v":249.5},{"s":"O","t":195.1,"v":222},{"s":"O","t":189.8,"v":223.6},{"s":"O","t":186.3,"v":215},{"s":"O","t":181.1,"v":208},{"s":"O","t":175.8,"v":201},{"s":"O","t":172.3,"v":190.7},{"s":"O","t":167,"v":197.6},{"s":"O","t":161.8,"v":190.7},{"s":"O","t":158.2,"v":201},{"s":"O","t":153,"v":187.2},{"s":"O","t":147.7,"v":197.6},{"s":"O","t":140.7,"v":194.2},{"s":"O","t":133.7,"v":190.7},{"s":"O","t":130.2,"v":232},{"s":"O","t":127.4,"v":285.8},{"s":"O","t":123.2,"v":273.7},{"s":"O","t":119.6,"v":280.6},{"s":"O","t":114.4,"v":260},{"s":"O","t":109.1,"v":228.7},{"s":"O","t":103.9,"v":228.7},{"s":"O","t":100.4,"v":215},{"s":"O","t":95.1,"v":225.3},{"s":"O","t":89.8,"v":215},{"s":"O","t":84.6,"v":228.7},{"s":"O","t":81.1,"v":249.5},{"s":"O","t":77.5,"v":232},{"s":"O","t":74,"v":246},{"s":"O","t":70.5,"v":235.7},{"s":"O","t":68.8,"v":242.6},{"s":"O","t":65.3,"v":211.4},{"s":"O","t":61.8,"v":201},{"s":"O","t":58.2,"v":222},{"s":"O","t":54.7,"v":211.4},{"s":"O","t":49.5,"v":218.4},{"s":"O","t":44.2,"v":208},{"s":"O","t":38.9,"v":215},{"s":"O","t":35.4,"v":201},{"s":"O","t":30.2,"v":211.4},{"s":"O","t":24.9,"v":194.2},{"s":"O","t":21.4,"v":187.2},{"s":"O","t":17.9,"v":197.6},{"s":"O","t":14.4,"v":190.7},{"s":"O","t":10.9,"v":228.7},{"s":"O","t":7.4,"v":260},{"s":"O","t":3.9,"v":263.3},{"s":"O","t":0.4,"v":277}
    ],
    "tags": [
      {"panel":"a","label":"(a)","t":384,"v":527},
      {"panel":"b","label":"(b)","t":384,"v":0.22},
      {"panel":"c","label":"(c)","t":384,"v":0.89},
      {"panel":"d","label":"(d)","t":384,"v":9.5},
      {"panel":"e","label":"(e)","t":384,"v":296}
    ]
  },
  "encoding": {
    "x": {
      "field": "t", "type": "quantitative",
      "scale": {"domain": [0, 400], "reverse": true, "nice": false, "zero": false},
      "axis": {"values": [400, 360, 320, 280, 240, 200, 160, 120, 80, 40, 0], "title": null, "labelFontSize": 11, "labelFlush": false, "tickSize": 4, "labelPadding": 2}
    }
  },
  "layer": [
    {
      "data": {"name": "msi"},
      "encoding": {
        "y": {"field": "v", "type": "quantitative",
          "scale": {"domain": [-145, 561], "nice": false, "zero": false},
          "axis": {"orient": "right", "values": [450, 475, 500, 525, 550], "format": "d", "title": "MSI (W m⁻²)", "titleAngle": 270, "titleX": 40, "titleY": 50, "titleAlign": "center", "titleBaseline": "alphabetic"}}
      },
      "layer": [
        {"mark": {"type": "line", "color": "#9e3b3b", "strokeWidth": 2.6, "interpolate": "monotone"}, "encoding": {}},
        {"data": {"name": "tags"}, "transform": [{"filter": "datum.panel === 'a'"}],
         "mark": {"type": "text", "align": "left", "baseline": "middle", "font": "Liberation Sans", "fontSize": 13, "fontWeight": "bold", "color": "#111"},
         "encoding": {"text": {"field": "label"}}}
      ]
    },
    {
      "data": {"name": "ghg"},
      "encoding": {
        "y": {"field": "v", "type": "quantitative",
          "scale": {"domain": [-19.85, 4.785], "nice": false, "zero": false},
          "axis": {"orient": "left", "values": [-3, -2, -1, 0], "format": "d", "title": "GHG RF (W m⁻²)", "titleAngle": 270, "titleX": -31, "titleY": 133, "titleAlign": "center", "titleBaseline": "alphabetic"}}
      },
      "layer": [
        {"transform": [{"filter": "datum.s === 'P'"}], "mark": {"type": "line", "color": "#9612c9", "strokeWidth": 3.8, "interpolate": "monotone"}, "encoding": {}},
        {"transform": [{"filter": "datum.s === 'B'"}], "mark": {"type": "line", "color": "#22a6ee", "strokeWidth": 3.8, "interpolate": "monotone"}, "encoding": {}},
        {"transform": [{"filter": "datum.s === 'O'"}], "mark": {"type": "line", "color": "#111", "strokeWidth": 1, "strokeDash": [3, 2]}, "encoding": {}},
        {"data": {"name": "tags"}, "transform": [{"filter": "datum.panel === 'b'"}],
         "mark": {"type": "text", "align": "left", "baseline": "middle", "font": "Liberation Sans", "fontSize": 13, "fontWeight": "bold", "color": "#111"},
         "encoding": {"text": {"field": "label"}}}
      ]
    },
    {
      "data": {"name": "dust"},
      "encoding": {
        "y": {"field": "v", "type": "quantitative",
          "scale": {"domain": [-3.054, 3.236], "nice": false, "zero": false},
          "axis": {"orient": "right", "values": [0, 0.2, 0.4, 0.6, 0.8], "format": ".1~f", "title": "Antarctic dust", "titleAngle": 270, "titleX": 40, "titleY": 251, "titleAlign": "center", "titleBaseline": "alphabetic"}}
      },
      "layer": [
        {"transform": [{"filter": "datum.s === 'P'"}], "mark": {"type": "line", "color": "#9612c9", "strokeWidth": 3.8, "interpolate": "monotone"}, "encoding": {}},
        {"transform": [{"filter": "datum.s === 'B'"}], "mark": {"type": "line", "color": "#22a6ee", "strokeWidth": 3.8, "interpolate": "monotone"}, "encoding": {}},
        {"transform": [{"filter": "datum.s === 'O'"}], "mark": {"type": "line", "color": "#111", "strokeWidth": 1, "strokeDash": [3, 2]}, "encoding": {}},
        {"data": {"name": "tags"}, "transform": [{"filter": "datum.panel === 'c'"}],
         "mark": {"type": "text", "align": "left", "baseline": "middle", "font": "Liberation Sans", "fontSize": 13, "fontWeight": "bold", "color": "#111"},
         "encoding": {"text": {"field": "label"}}}
      ]
    },
    {
      "data": {"name": "sea"},
      "encoding": {
        "y": {"field": "v", "type": "quantitative",
          "scale": {"domain": [-366.7, 295.2], "reverse": true, "nice": false, "zero": false},
          "axis": {"orient": "left", "values": [0, 25, 50, 75, 100, 125], "format": "d", "title": "Sea level (m)", "titleAngle": 270, "titleX": -31, "titleY": 356, "titleAlign": "center", "titleBaseline": "alphabetic"}}
      },
      "layer": [
        {"transform": [{"filter": "datum.s === 'P'"}], "mark": {"type": "line", "color": "#9612c9", "strokeWidth": 3.8, "interpolate": "monotone"}, "encoding": {}},
        {"transform": [{"filter": "datum.s === 'B'"}], "mark": {"type": "line", "color": "#22a6ee", "strokeWidth": 3.8, "interpolate": "monotone"}, "encoding": {}},
        {"transform": [{"filter": "datum.s === 'O'"}], "mark": {"type": "line", "color": "#111", "strokeWidth": 1, "strokeDash": [3, 2]}, "encoding": {}},
        {"data": {"name": "tags"}, "transform": [{"filter": "datum.panel === 'd'"}],
         "mark": {"type": "text", "align": "left", "baseline": "middle", "font": "Liberation Sans", "fontSize": 13, "fontWeight": "bold", "color": "#111"},
         "encoding": {"text": {"field": "label"}}}
      ]
    },
    {
      "data": {"name": "co2"},
      "encoding": {
        "y": {"field": "v", "type": "quantitative",
          "scale": {"domain": [170.3, 747.1], "nice": false, "zero": false},
          "axis": {"orient": "right", "values": [180, 195, 210, 225, 240, 255, 270, 285, 300], "format": "d", "title": "CO₂ (ppm)", "titleAngle": 270, "titleX": 40, "titleY": 492, "titleAlign": "center", "titleBaseline": "alphabetic"}}
      },
      "layer": [
        {"transform": [{"filter": "datum.s === 'P'"}], "mark": {"type": "line", "color": "#9612c9", "strokeWidth": 3.8, "interpolate": "monotone"}, "encoding": {}},
        {"transform": [{"filter": "datum.s === 'B'"}], "mark": {"type": "line", "color": "#22a6ee", "strokeWidth": 3.8, "interpolate": "monotone"}, "encoding": {}},
        {"transform": [{"filter": "datum.s === 'O'"}], "mark": {"type": "line", "color": "#111", "strokeWidth": 1, "strokeDash": [3, 2]}, "encoding": {}},
        {"data": {"name": "tags"}, "transform": [{"filter": "datum.panel === 'e'"}],
         "mark": {"type": "text", "align": "left", "baseline": "middle", "font": "Liberation Sans", "fontSize": 13, "fontWeight": "bold", "color": "#111"},
         "encoding": {"text": {"field": "label"}}}
      ]
    }
  ],
  "resolve": {"scale": {"y": "independent"}, "axis": {"y": "independent"}}
}
